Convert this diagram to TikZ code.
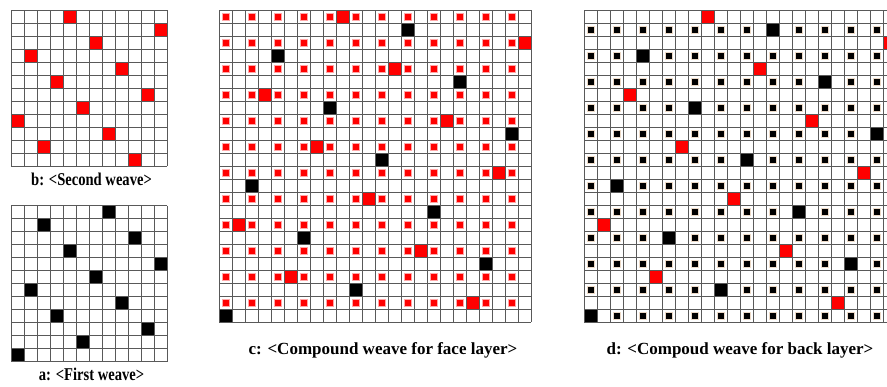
\documentclass[tikz,border=0pt]{standalone}
\usepackage{fontspec}
\setmainfont{Liberation Serif}
\tikzset{
  gridl/.style={draw=black!65, line width=0.9pt},
  smallred/.style={fill=red, draw=red!35, line width=0.9pt},
  smallblack/.style={fill=black, draw=brown!30, line width=0.9pt},
  lbl/.style={font=\bfseries\fontsize{17}{19}\selectfont, anchor=base, inner sep=0pt},
  lblab/.style={font=\bfseries\fontsize{18}{20}\selectfont, anchor=base, inner sep=0pt, xscale=0.81}
}
\newcommand{\cellbig}[3]{\fill[#3] (#1*13,#2*13) rectangle (#1*13+13,#2*13+13);}
\newcommand{\cellsmall}[3]{\filldraw[#3] (#1*13+3,#2*13+3) rectangle (#1*13+10,#2*13+10);}
\newcommand{\gridlines}[1]{%
  \foreach \k in {0,...,#1} {
    \draw[gridl] (\k*13,0) -- (\k*13,#1*13);
    \draw[gridl] (0,\k*13) -- (#1*13,\k*13);
  }}
\begin{document}
\begin{tikzpicture}[x=1pt,y=-1pt]
\useasboundingbox (0,0) rectangle (887,386);
\clip (0,0) rectangle (887,386);
% b: second weave
\begin{scope}[shift={(11,10)}]
  \foreach \i in {0,...,11} {
    \pgfmathtruncatemacro{\c}{mod(4+7*\i,12)}
    \cellbig{\c}{\i}{red}
  }
  \gridlines{12}
\end{scope}
% a: first weave
\begin{scope}[shift={(11,205.5)}]
  \foreach \i in {0,...,11} {
    \pgfmathtruncatemacro{\c}{mod(7+7*\i,12)}
    \cellbig{\c}{\i}{black}
  }
  \gridlines{12}
\end{scope}
% c: compound face
\begin{scope}[shift={(219.3,10)}]
  \foreach \i in {0,...,11} {
    \pgfmathtruncatemacro{\r}{2*\i}
    \pgfmathtruncatemacro{\s}{2*\i+1}
    \foreach \j in {0,...,11} {
      \pgfmathtruncatemacro{\cc}{2*\j}
      \cellsmall{\cc}{\r}{smallred}
    }
    \pgfmathtruncatemacro{\c}{2*mod(4+7*\i,12)+1}
    \cellbig{\c}{\r}{red}
    \pgfmathtruncatemacro{\d}{2*mod(7+7*\i,12)}
    \cellbig{\d}{\s}{black}
  }
  \gridlines{24}
\end{scope}
% d: compound back
\begin{scope}[shift={(584,10)}]
  \foreach \i in {0,...,11} {
    \pgfmathtruncatemacro{\r}{2*\i}
    \pgfmathtruncatemacro{\s}{2*\i+1}
    \pgfmathtruncatemacro{\d}{mod(7+7*\i,12)}
    \foreach \j in {0,...,11} {
      \pgfmathtruncatemacro{\cc}{2*\j}
      \ifnum\j=\d\relax\else\cellsmall{\cc}{\s}{smallblack}\fi
    }
    \pgfmathtruncatemacro{\c}{2*mod(4+7*\i,12)+1}
    \cellbig{\c}{\r}{red}
    \pgfmathtruncatemacro{\dd}{2*\d}
    \cellbig{\dd}{\s}{black}
  }
  \gridlines{24}
\end{scope}
\node[lblab] (lb) at (91.5,185) {b: <Second weave>};
\node[lblab] (la) at (91.5,380) {a: <First weave>};
\node[lbl] (lc) at (383,354) {c: <Compound weave for face layer>};
\node[lbl] (ld) at (740,354) {d: <Compoud weave for back layer>};
\end{tikzpicture}
\end{document}
